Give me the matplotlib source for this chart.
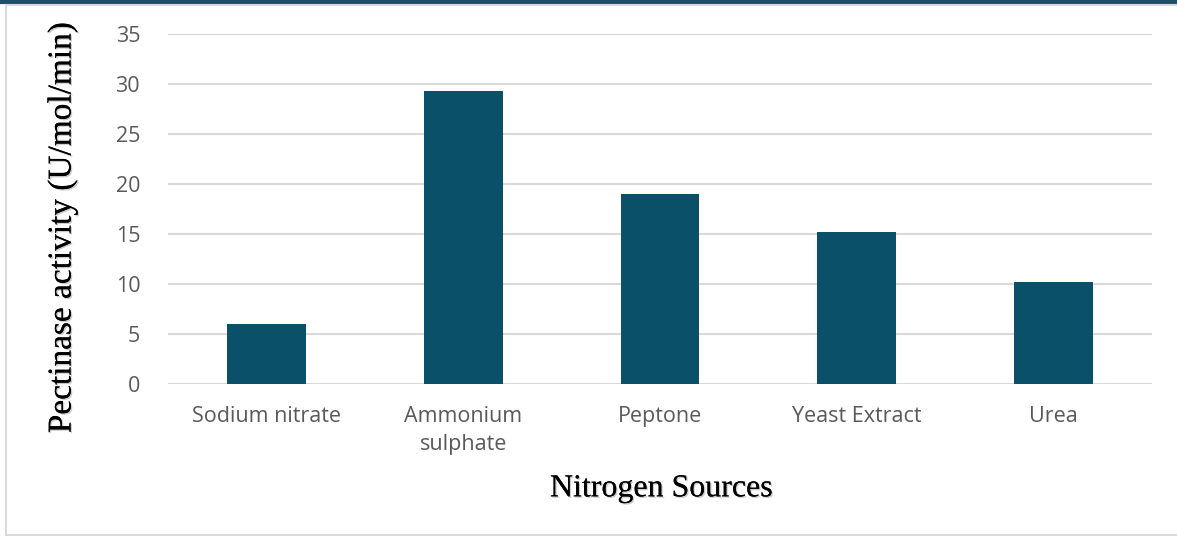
import matplotlib.pyplot as plt
import matplotlib.patheffects as pe
from matplotlib.lines import Line2D

sources = ["Sodium nitrate", "Ammonium\nsulphate", "Peptone", "Yeast Extract", "Urea"]
activity = [6.0, 29.3, 19.0, 15.2, 10.2]
y_ticks = [0, 5, 10, 15, 20, 25, 30, 35]

bar_color = "#0B5069"
grid_color = "#D9D9D9"
tick_color = "#595959"

fig = plt.figure(figsize=(11.77, 5.36), dpi=100)
ax = fig.add_axes([0.1427, 0.2836, 0.836, 0.653])

x = list(range(len(sources)))
ax.bar(x, activity, width=0.4, color=bar_color, zorder=3)

ax.set_xlim(-0.5, len(sources) - 0.5)
ax.set_ylim(0, 35)
ax.set_yticks(y_ticks)
ax.set_xticks(x)
ax.set_xticklabels(sources, family="Open Sans", fontsize=15.5, color=tick_color, linespacing=1.45)
for lab in ax.get_yticklabels():
    lab.set_family("Open Sans")
    lab.set_fontsize(15.5)
    lab.set_color(tick_color)
ax.tick_params(axis="both", length=0)
ax.tick_params(axis="y", pad=20)
ax.tick_params(axis="x", pad=16)
ax.grid(axis="y", color=grid_color, linewidth=1.5, zorder=0)
for side in ["top", "right", "left", "bottom"]:
    ax.spines[side].set_visible(False)

shadow = [pe.withSimplePatchShadow(offset=(1, -1), shadow_rgbFace="#999999", alpha=0.5), pe.Normal()]
fig.text(0.053, 0.576, "Pectinase activity (U/mol/min)", rotation=90, ha="center", va="center",
         family="Liberation Serif", fontsize=24, color="black", path_effects=shadow)
fig.text(0.562, 0.088, "Nitrogen Sources", ha="center", va="center",
         family="Liberation Serif", fontsize=23, color="black", path_effects=shadow)

# frame around the chart area, dark line along the top edge
fig.add_artist(Line2D([0, 1], [0.997, 0.997], transform=fig.transFigure, color="#1F4E6B", linewidth=3))
fig.add_artist(Line2D([0.005, 1], [0.991, 0.991], transform=fig.transFigure, color="#D9D9D9", linewidth=1.5))
fig.add_artist(Line2D([0.005, 0.005], [0.002, 0.991], transform=fig.transFigure, color="#D9D9D9", linewidth=1.5))
fig.add_artist(Line2D([0.005, 1], [0.002, 0.002], transform=fig.transFigure, color="#D9D9D9", linewidth=1.5))

fig.savefig("out.png", dpi=100)
